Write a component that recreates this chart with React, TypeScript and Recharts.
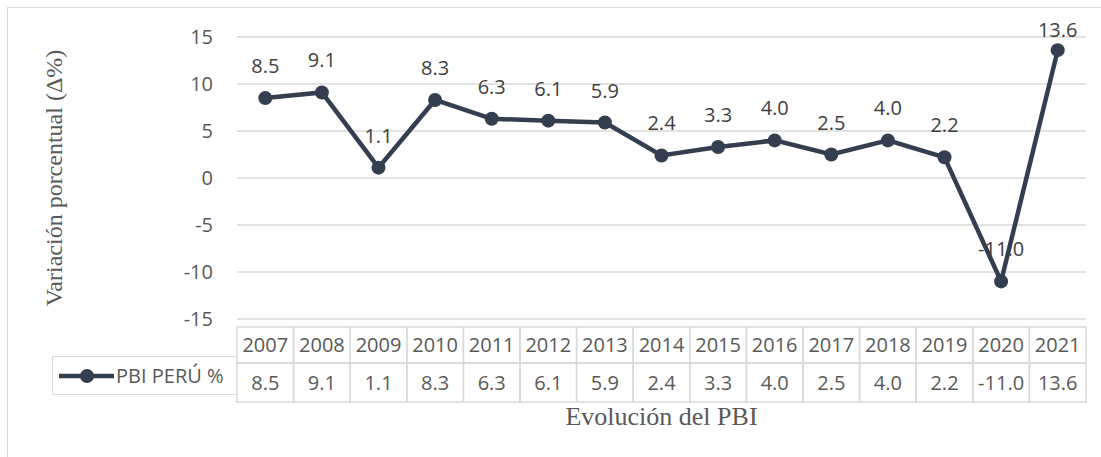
import React from 'react';
import { LineChart, Line, CartesianGrid, XAxis, YAxis, Legend, LabelList } from 'recharts';

const years = ['2007', '2008', '2009', '2010', '2011', '2012', '2013', '2014', '2015', '2016', '2017', '2018', '2019', '2020', '2021'];
const pbiPeru = [8.5, 9.1, 1.1, 8.3, 6.3, 6.1, 5.9, 2.4, 3.3, 4.0, 2.5, 4.0, 2.2, -11.0, 13.6];
const yTicks = [-15, -10, -5, 0, 5, 10, 15];
const seriesName = 'PBI PERÚ %';

const data = years.map((y, i) => ({ year: y, pbi: pbiPeru[i] }));

const LINE = '#333f50';
const GRID = '#d9d9d9';
const TXT = '#595959';
const SANS = '"Open Sans", "Noto Sans", sans-serif';
const SERIF = '"Liberation Serif", "DejaVu Serif", serif';

// plot spans 237..1086, so each category cell is (1086 - 237) / 15 wide
const CELL = (1086 - 237) / years.length;

const TableTick = (props: any) => {
  const { x, y, index } = props;
  const left = x - CELL / 2;
  const top = y;
  return (
    <g>
      <rect x={left} y={top} width={CELL} height={36} fill="none" stroke={GRID} strokeWidth={1.5} />
      <rect x={left} y={top + 36} width={CELL} height={39} fill="none" stroke={GRID} strokeWidth={1.5} />
      <text x={x} y={top + 25} textAnchor="middle" fill={TXT} fontSize={20} fontFamily={SANS}>{years[index]}</text>
      <text x={x} y={top + 63} textAnchor="middle" fill={TXT} fontSize={20} fontFamily={SANS}>{pbiPeru[index].toFixed(1)}</text>
    </g>
  );
};

const LegendCell = () => (
  <div style={{ width: 185, height: 39, borderLeft: `1.5px solid ${GRID}`, borderTop: `1.5px solid ${GRID}`, borderBottom: `1.5px solid ${GRID}`, boxSizing: 'border-box', display: 'flex', alignItems: 'center', fontFamily: SANS, fontSize: 20, color: TXT }}>
    <svg width={58} height={20} style={{ marginLeft: 4 }}>
      <line x1={2} y1={10} x2={57} y2={10} stroke={LINE} strokeWidth={4.5} />
      <circle cx={30} cy={10} r={7} fill={LINE} />
    </svg>
    <span style={{ marginLeft: 1, whiteSpace: 'nowrap' }}>{seriesName}</span>
  </div>
);

const PointLabel = (props: any) => {
  const { x, y, value } = props;
  const cy = Math.max(y - 32, 30);
  return (
    <text x={x} y={cy + 7} textAnchor="middle" fill="#404040" fontSize={20} fontFamily={SANS}>
      {Number(value).toFixed(1)}
    </text>
  );
};

const YTitle = (props: any) => {
  const { viewBox } = props;
  const cx = viewBox.x + 54;
  const cy = viewBox.y + viewBox.height / 2;
  return (
    <text x={cx} y={cy} transform={`rotate(-90, ${cx}, ${cy})`} textAnchor="middle" dominantBaseline="central" fill={TXT} fontSize={24} fontFamily={SERIF}>
      Variación porcentual (Δ%)
    </text>
  );
};

const XTitle = (props: any) => {
  const { viewBox } = props;
  return (
    <text x={viewBox.x + viewBox.width / 2} y={viewBox.y + viewBox.height + 29} textAnchor="middle" fill={TXT} fontSize={26} fontFamily={SERIF}>
      Evolución del PBI
    </text>
  );
};

export default function App() {
  return (
    <div style={{ position: 'relative', width: 1101, height: 457, background: '#fff', overflow: 'hidden' }}>
      <style>{`body{margin:0;overflow:hidden}`}</style>
      <div style={{ position: 'absolute', left: 7, top: 7, width: 1100, height: 460, borderLeft: `1.5px solid ${GRID}`, borderTop: `1.5px solid ${GRID}` }} />
      <LineChart width={1101} height={457} data={data} margin={{ top: 37, right: 15, bottom: 22, left: 0 }}>
        <CartesianGrid vertical={false} stroke={GRID} strokeWidth={1.5} />
        <XAxis dataKey="year" axisLine={false} tickLine={false} height={77} tick={<TableTick />} interval={0}
          padding={{ left: CELL / 2, right: CELL / 2 }} label={<XTitle />} />
        <YAxis width={237} domain={[-15, 15]} ticks={yTicks} axisLine={false} tickLine={false} tickSize={0} tickMargin={24}
          tick={{ fill: TXT, fontSize: 20, fontFamily: SANS }} label={<YTitle />} />
        <Legend verticalAlign="bottom" align="left" content={<LegendCell />}
          wrapperStyle={{ position: 'absolute', left: 52, top: 356, width: 185, height: 39, bottom: 'auto' }} />
        <Line type="linear" dataKey="pbi" name={seriesName} stroke={LINE} strokeWidth={4.5}
          dot={{ r: 7, fill: LINE, stroke: LINE, strokeWidth: 0 }} activeDot={false} isAnimationActive={false}>
          <LabelList dataKey="pbi" content={<PointLabel />} />
        </Line>
      </LineChart>
    </div>
  );
}
